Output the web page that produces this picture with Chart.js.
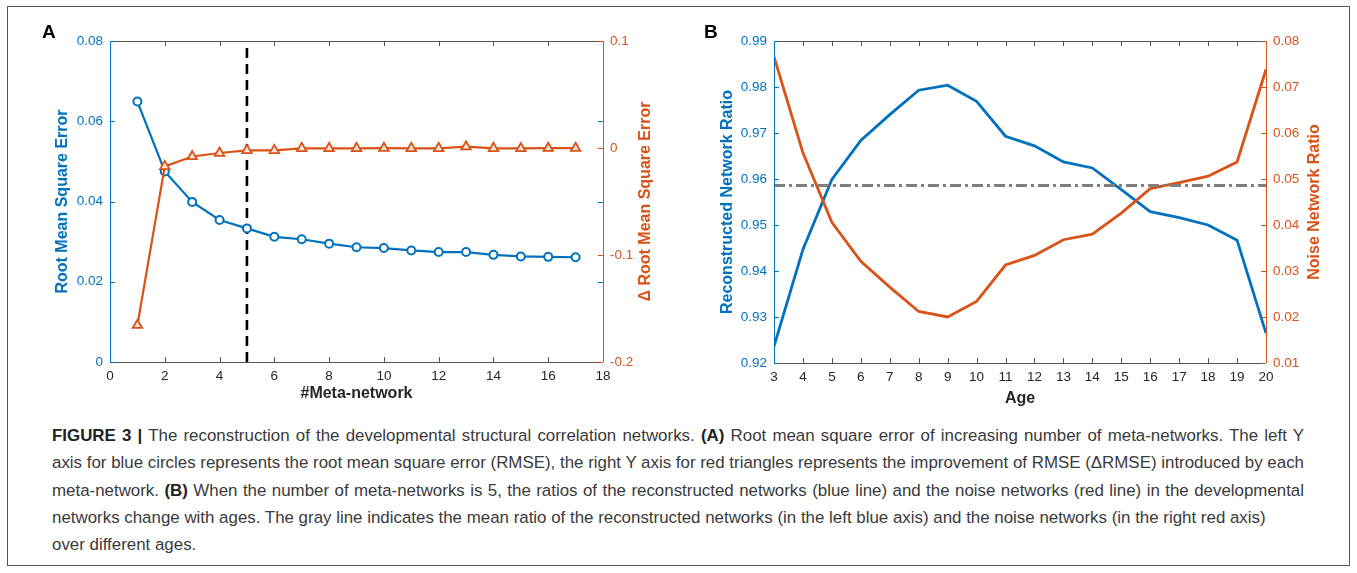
<!DOCTYPE html>
<html>
<head>
<meta charset="utf-8">
<script src="https://cdn.jsdelivr.net/npm/chart.js@4.4.1/dist/chart.umd.min.js"></script>
<style>
  body { margin: 0; background: #fff; font-family: "Liberation Sans", Arial, Helvetica, sans-serif; }
  #page { position: relative; width: 1357px; height: 573px; overflow: hidden; }
  #frame { position: absolute; left: 7px; top: 6px; width: 1343px; height: 560px; border: 1.5px solid #555; box-sizing: border-box; }
  canvas { position: absolute; top: 0; }
  .panel { position: absolute; font-weight: bold; font-size: 19px; color: #000; }
  #caption { position: absolute; left: 52px; top: 422px; width: 1252px; font-size: 16.9px; line-height: 27.3px; color: #3a3a3a; }
  #caption div { text-align: justify; text-align-last: justify; white-space: nowrap; }
  #caption div.last { text-align-last: left; }
  #caption b { color: #222; }
</style>
</head>
<body>
<div id="page">
  <div id="frame"></div>
  <canvas id="chartA" width="680" height="420" style="left:0;width:680px;height:420px"></canvas>
  <canvas id="chartB" width="677" height="420" style="left:680px;width:677px;height:420px"></canvas>
  <div class="panel" style="left:42px;top:21px">A</div>
  <div class="panel" style="left:704px;top:21px">B</div>
  <div id="caption">
    <div><b>FIGURE 3 |</b> The reconstruction of the developmental structural correlation networks. <b>(A)</b> Root mean square error of increasing number of meta-networks. The left Y</div>
    <div>axis for blue circles represents the root mean square error (RMSE), the right Y axis for red triangles represents the improvement of RMSE (ΔRMSE) introduced by each</div>
    <div>meta-network. <b>(B)</b> When the number of meta-networks is 5, the ratios of the reconstructed networks (blue line) and the noise networks (red line) in the developmental</div>
    <div class="last">networks change with ages. The gray line indicates the mean ratio of the reconstructed networks (in the left blue axis) and the noise networks (in the right red axis)</div>
    <div class="last">over different ages.</div>
  </div>
</div>
<script>
// panel A: reconstruction error vs number of meta-networks
const metaNetworks = [1, 2, 3, 4, 5, 6, 7, 8, 9, 10, 11, 12, 13, 14, 15, 16, 17];
const rmse = [0.0649, 0.0475, 0.0399, 0.0354, 0.0333, 0.0312, 0.0306, 0.0295, 0.0286, 0.0284, 0.0278, 0.0274, 0.0274, 0.0267, 0.0263, 0.0262, 0.0261];
const deltaRmse = [-0.1656, -0.0172, -0.0079, -0.0047, -0.0022, -0.0022, -0.0003, -0.0003, -0.0003, -0.0002, -0.0003, -0.0003, 0.0012, -0.0003, -0.0004, -0.0002, -0.0002];
const chosenCount = 5;

// panel B: ratios by age
const ages = [3, 4, 5, 6, 7, 8, 9, 10, 11, 12, 13, 14, 15, 16, 17, 18, 19, 20];
const reconRatio = [0.9236, 0.9447, 0.9599, 0.9684, 0.9740, 0.9793, 0.9804, 0.9769, 0.9693, 0.9672, 0.9637, 0.9624, 0.9577, 0.9529, 0.9516, 0.9500, 0.9467, 0.9265];
const noiseRatio = [0.0766, 0.0557, 0.0406, 0.0321, 0.0265, 0.0212, 0.0200, 0.0234, 0.0313, 0.0334, 0.0368, 0.0380, 0.0426, 0.0479, 0.0492, 0.0506, 0.0537, 0.0738];
const meanRecon = 0.9586;

const BLUE = "#0072BD";
const RED = "#D95319";
const DARK = "#262626";
const FONT = "'Liberation Sans', Arial, Helvetica, sans-serif";

Chart.defaults.font.family = FONT;
Chart.defaults.font.size = 13.5;
Chart.defaults.animation = false;

const pts = (xs, ys) => xs.map((x, i) => ({ x: x, y: ys[i] }));
const fmt2 = v => (Math.abs(v) < 1e-9 ? "0" : v.toFixed(2));
const fmt1 = v => (Math.abs(v) < 1e-9 ? "0" : v.toFixed(1));

// box, inward ticks and the right-hand title (reads bottom to top)
const boxPlugin = {
    id: "box",
    afterDatasetsDraw(chart, args, opts) {
        const { ctx, chartArea: a, scales } = chart;
        const xs = scales.x, yl = scales.y, yr = scales.y1;
        const tl = 5;
        const seg = (x1, y1, x2, y2) => { ctx.beginPath(); ctx.moveTo(x1, y1); ctx.lineTo(x2, y2); ctx.stroke(); };
        ctx.save();
        ctx.lineWidth = 1;
        ctx.strokeStyle = "#555";
        seg(a.left, a.top + 0.5, a.right, a.top + 0.5);
        seg(a.left, a.bottom + 0.5, a.right, a.bottom + 0.5);
        xs.ticks.forEach(t => {
            const px = Math.round(xs.getPixelForValue(t.value)) + 0.5;
            seg(px, a.bottom, px, a.bottom - tl);
            seg(px, a.top, px, a.top + tl);
        });
        ctx.strokeStyle = opts.leftColor;
        seg(a.left + 0.5, a.top, a.left + 0.5, a.bottom);
        yl.ticks.forEach(t => {
            const py = Math.round(yl.getPixelForValue(t.value)) + 0.5;
            seg(a.left, py, a.left + tl, py);
            if (opts.mirrorLeft) seg(a.right, py, a.right - tl, py);
        });
        ctx.strokeStyle = opts.rightColor;
        seg(a.right + 0.5, a.top, a.right + 0.5, a.bottom);
        yr.ticks.forEach(t => {
            const py = Math.round(yr.getPixelForValue(t.value)) + 0.5;
            seg(a.right, py, a.right - tl, py);
        });
        ctx.translate(opts.rightTitleX, (a.top + a.bottom) / 2);
        ctx.rotate(-Math.PI / 2);
        ctx.font = "bold 16px " + FONT;
        ctx.fillStyle = opts.rightColor;
        ctx.textAlign = "center";
        ctx.textBaseline = "middle";
        ctx.fillText(opts.rightTitle, 0, 0);
        ctx.restore();
    }
};

function axisX(min, max, step, title, titlePad, height) {
    return {
        type: "linear", min: min, max: max,
        grid: { display: false, drawTicks: false }, border: { display: false },
        ticks: { stepSize: step, color: DARK, padding: 6, maxRotation: 0, autoSkip: false },
        title: { display: true, text: title, color: DARK, font: { size: 16, weight: "bold" }, padding: { top: 0, bottom: titlePad } },
        afterFit: s => { s.height = height; }
    };
}

function axisY(pos, min, max, step, color, cb, width, title, titlePad) {
    return {
        type: "linear", position: pos, min: min, max: max,
        grid: { display: false, drawTicks: false }, border: { display: false },
        ticks: { stepSize: step, color: color, padding: 7, callback: cb },
        title: { display: !!title, text: title || "", color: color, font: { size: 16, weight: "bold" }, padding: { top: titlePad || 0, bottom: 0 } },
        afterFit: s => { s.width = width; }
    };
}

new Chart(document.getElementById("chartA"), {
    type: "line",
    data: {
        datasets: [
            {
                data: pts(metaNetworks, deltaRmse), yAxisID: "y1", order: 0,
                borderColor: RED, borderWidth: 2.2, pointStyle: "triangle", pointRadius: 5.5,
                pointBorderWidth: 1.8, pointBorderColor: RED, pointBackgroundColor: "#fbe3d8"
            },
            {
                data: pts(metaNetworks, rmse), yAxisID: "y", order: 1,
                borderColor: BLUE, borderWidth: 2.2, pointStyle: "circle", pointRadius: 4,
                pointBorderWidth: 2, pointBorderColor: BLUE, pointBackgroundColor: "#fff"
            },
            {
                data: [{ x: chosenCount, y: 0 }, { x: chosenCount, y: 0.08 }], yAxisID: "y", order: 2,
                borderColor: "#000", borderWidth: 2.6, borderDash: [10, 6], pointRadius: 0
            }
        ]
    },
    options: {
        responsive: false, devicePixelRatio: 1,
        layout: { padding: { top: 41, left: 0, right: 0, bottom: 0 } },
        plugins: {
            legend: { display: false }, tooltip: { enabled: false },
            box: { leftColor: BLUE, rightColor: RED, mirrorLeft: true, rightTitle: "\u0394 Root Mean Square Error", rightTitleX: 646 }
        },
        scales: {
            x: axisX(0, 18, 2, "#Meta-network", 17, 58),
            y: axisY("left", 0, 0.08, 0.02, BLUE, fmt2, 110, "Root Mean Square Error", 53),
            y1: axisY("right", -0.2, 0.1, 0.1, RED, fmt1, 77)
        }
    },
    plugins: [boxPlugin]
});

new Chart(document.getElementById("chartB"), {
    type: "line",
    data: {
        datasets: [
            {
                data: [{ x: ages[0], y: meanRecon }, { x: ages[ages.length - 1], y: meanRecon }], yAxisID: "y", order: 0,
                borderColor: "#7f7f7f", borderWidth: 3, borderDash: [11, 4, 3, 4], pointRadius: 0
            },
            {
                data: pts(ages, noiseRatio), yAxisID: "y1", order: 1,
                borderColor: RED, borderWidth: 2.8, pointRadius: 0
            },
            {
                data: pts(ages, reconRatio), yAxisID: "y", order: 2,
                borderColor: BLUE, borderWidth: 2.8, pointRadius: 0
            }
        ]
    },
    options: {
        responsive: false, devicePixelRatio: 1,
        layout: { padding: { top: 41, left: 0, right: 0, bottom: 0 } },
        plugins: {
            legend: { display: false }, tooltip: { enabled: false },
            box: { leftColor: BLUE, rightColor: RED, mirrorLeft: false, rightTitle: "Noise Network Ratio", rightTitleX: 635 }
        },
        scales: {
            x: axisX(3, 20, 1, "Age", 12, 57),
            y: axisY("left", 0.92, 0.99, 0.01, BLUE, fmt2, 94, "Reconstructed Network Ratio", 38),
            y1: axisY("right", 0.01, 0.08, 0.01, RED, fmt2, 677 - 586)
        }
    },
    plugins: [boxPlugin]
});
</script>
</body>
</html>
